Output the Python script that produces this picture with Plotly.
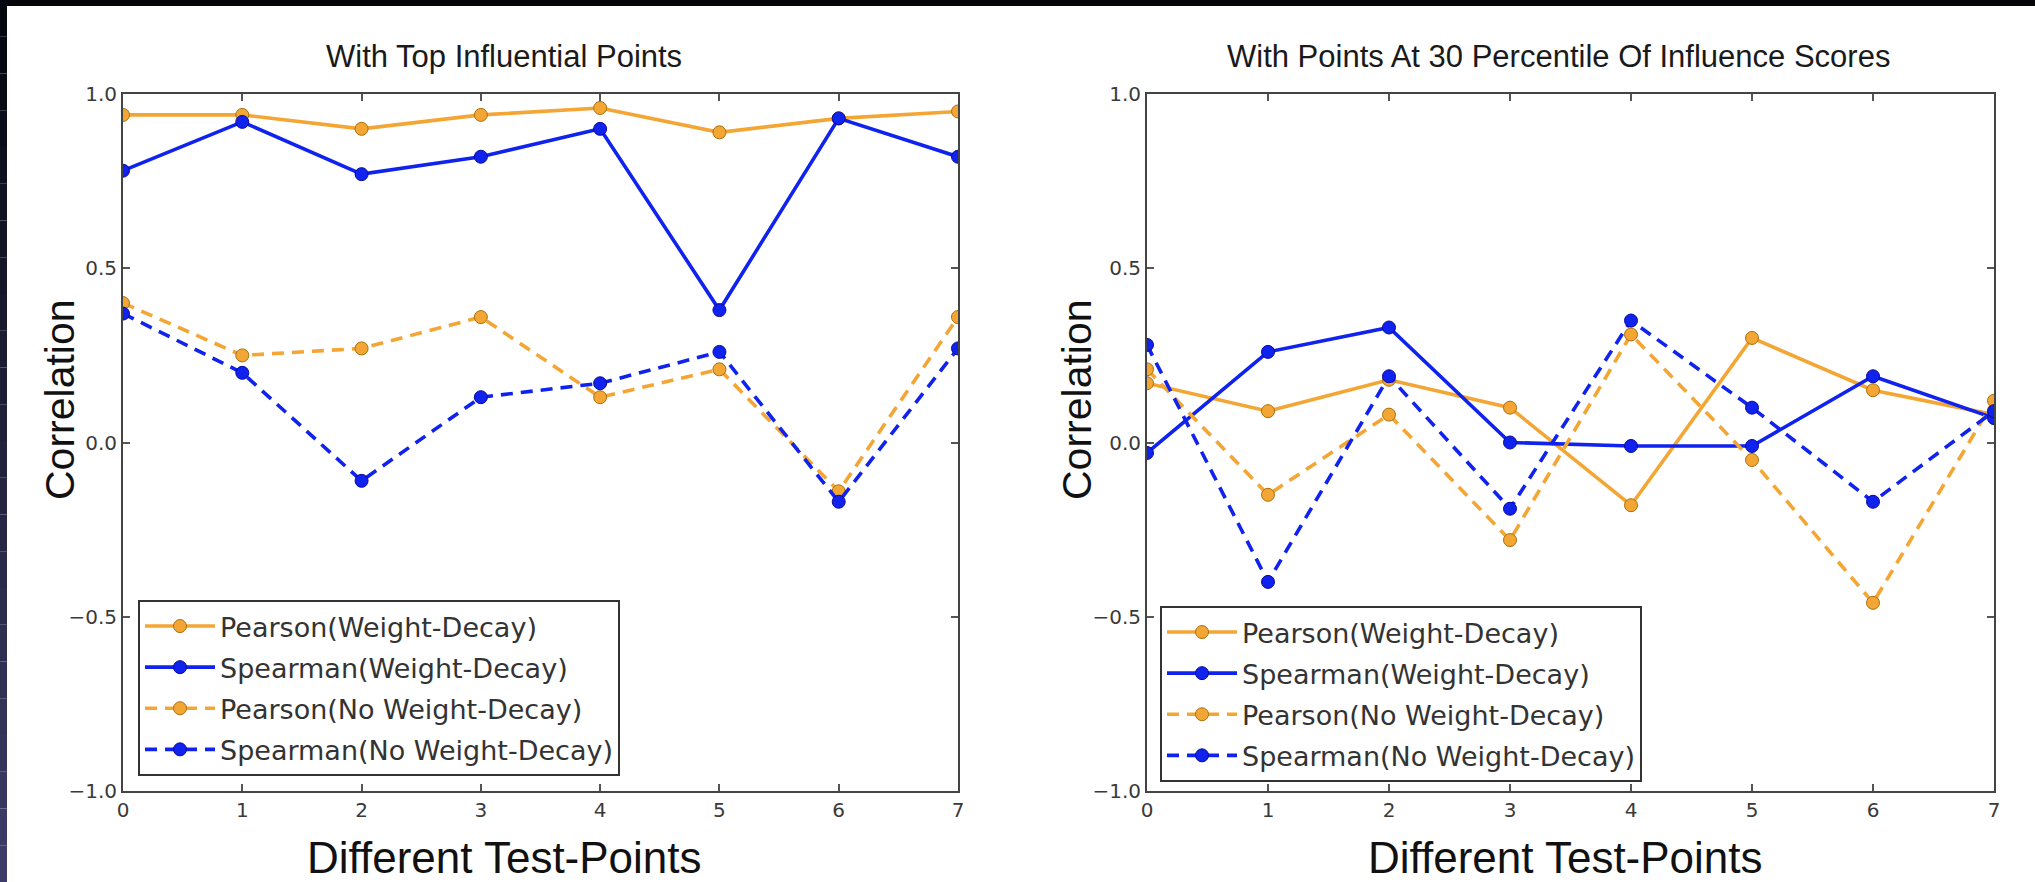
import plotly.graph_objects as go

# ---- data -------------------------------------------------------------
test_points = [0, 1, 2, 3, 4, 5, 6, 7]

# left panel: top influential points
pearson_wd_top = [0.94, 0.94, 0.90, 0.94, 0.96, 0.89, 0.93, 0.95]
spearman_wd_top = [0.78, 0.92, 0.77, 0.82, 0.90, 0.38, 0.93, 0.82]
pearson_nowd_top = [0.40, 0.25, 0.27, 0.36, 0.13, 0.21, -0.14, 0.36]
spearman_nowd_top = [0.37, 0.20, -0.11, 0.13, 0.17, 0.26, -0.17, 0.27]

# right panel: points at the 30th percentile of influence scores
pearson_wd_30 = [0.17, 0.09, 0.18, 0.10, -0.18, 0.30, 0.15, 0.08]
spearman_wd_30 = [-0.03, 0.26, 0.33, 0.00, -0.01, -0.01, 0.19, 0.07]
pearson_nowd_30 = [0.21, -0.15, 0.08, -0.28, 0.31, -0.05, -0.46, 0.12]
spearman_nowd_30 = [0.28, -0.40, 0.19, -0.19, 0.35, 0.10, -0.17, 0.09]

series_names = [
    "Pearson(Weight-Decay)",
    "Spearman(Weight-Decay)",
    "Pearson(No Weight-Decay)",
    "Spearman(No Weight-Decay)",
]
panel_titles = ["With Top Influential Points",
                "With Points At 30 Percentile Of Influence Scores"]
x_title = "Different Test-Points"
y_title = "Correlation"
y_ticks = [-1.0, -0.5, 0.0, 0.5, 1.0]

# ---- page geometry ----------------------------------------------------
W, H = 2035, 882


def px(x):
    return x / W


def py(y):
    return 1 - y / H


ORANGE = "#F4A635"
ORANGE_EDGE = "#A8700F"
BLUE = "#0F22EE"
BLUE_EDGE = "#0A0A9A"

styles = [
    dict(color=ORANGE, edge=ORANGE_EDGE, dash="solid"),
    dict(color=BLUE, edge=BLUE_EDGE, dash="solid"),
    dict(color=ORANGE, edge=ORANGE_EDGE, dash="12px,8px"),
    dict(color=BLUE, edge=BLUE_EDGE, dash="12px,8px"),
]

fig = go.Figure()

panels = [
    ("x", "y", "legend", "top",
     [pearson_wd_top, spearman_wd_top, pearson_nowd_top, spearman_nowd_top]),
    ("x2", "y2", "legend2", "p30",
     [pearson_wd_30, spearman_wd_30, pearson_nowd_30, spearman_nowd_30]),
]

for xa, ya, leg, tag, series in panels:
    for name, vals, st in zip(series_names, series, styles):
        fig.add_trace(go.Scatter(
            x=test_points, y=vals, name=name, mode="lines+markers",
            xaxis=xa, yaxis=ya, legend=leg, legendgroup=f"{tag}-{name}",
            line=dict(color=st["color"], width=3.6, dash=st["dash"]),
            marker=dict(size=13, color=st["color"],
                        line=dict(color=st["edge"], width=1)),
        ))

axis_common = dict(
    range=[0, 7], showgrid=False, zeroline=False, automargin=False,
    showline=True, linecolor="#444", linewidth=2, mirror="ticks",
    ticks="inside", ticklen=7, tickwidth=1.5, tickcolor="#555",
    tickfont=dict(family="DejaVu Sans", size=20, color="#3a3a3a"),
)

y_dom = [py(791), py(94)]
fig.update_layout(
    width=W, height=H,
    margin=dict(l=0, r=0, t=0, b=0, autoexpand=False),
    paper_bgcolor="white", plot_bgcolor="white",
    showlegend=True,
    xaxis=dict(axis_common, domain=[px(123), px(958)], anchor="y",
               tickvals=test_points),
    yaxis=dict(axis_common, domain=y_dom, anchor="x", range=[-1, 1],
               tickvals=y_ticks, tickformat=".1f"),
    xaxis2=dict(axis_common, domain=[px(1147), px(1994)], anchor="y2",
                tickvals=test_points),
    yaxis2=dict(axis_common, domain=y_dom, anchor="x2", range=[-1, 1],
                tickvals=y_ticks, tickformat=".1f"),
)

legend_common = dict(
    xanchor="left", yanchor="top", bgcolor="white",
    bordercolor="#333", borderwidth=2, itemwidth=70,
    tracegroupgap=3,
    font=dict(family="DejaVu Sans", size=27, color="#333"),
)
fig.update_layout(
    legend=dict(legend_common, x=px(138), y=py(600)),
    legend2=dict(legend_common, x=px(1160), y=py(606)),
)

# panel titles and axis labels
annotations = []
for cx, ylab_x, title in [(504, 60, panel_titles[0]),
                          (1558, 1077, panel_titles[1])]:
    annotations.append(dict(
        x=px(cx), y=py(57), xref="paper", yref="paper", showarrow=False,
        text=title, xanchor="center", yanchor="middle",
        font=dict(family="Liberation Sans", size=31, color="#1a1a1a")))
    annotations.append(dict(
        x=px(ylab_x), y=py(400), xref="paper", yref="paper", showarrow=False,
        text=y_title, textangle=-90, xanchor="center", yanchor="middle",
        font=dict(family="Liberation Sans", size=41, color="#111")))
for cx in (504, 1565):
    annotations.append(dict(
        x=px(cx), y=py(857), xref="paper", yref="paper", showarrow=False,
        text=x_title, xanchor="center", yanchor="middle",
        font=dict(family="Liberation Sans", size=44, color="#111")))
fig.update_layout(annotations=annotations)

# dark page edges around the white figure area
shapes = [dict(type="rect", xref="paper", yref="paper",
               x0=0, x1=1, y0=py(6), y1=1, fillcolor="#05050a",
               line=dict(width=0), layer="above")]
n_seg = 24
top_rgb = (6, 6, 14)
bot_rgb = (60, 60, 104)
for i in range(n_seg):
    t = i / (n_seg - 1)
    c = tuple(round(a + (b - a) * t) for a, b in zip(top_rgb, bot_rgb))
    shapes.append(dict(
        type="rect", xref="paper", yref="paper",
        x0=0, x1=px(7), y0=py(H * (i + 1) / n_seg), y1=py(H * i / n_seg),
        fillcolor="rgb(%d,%d,%d)" % c, line=dict(width=0), layer="above"))
fig.update_layout(shapes=shapes)

fig.write_html("out.html")
